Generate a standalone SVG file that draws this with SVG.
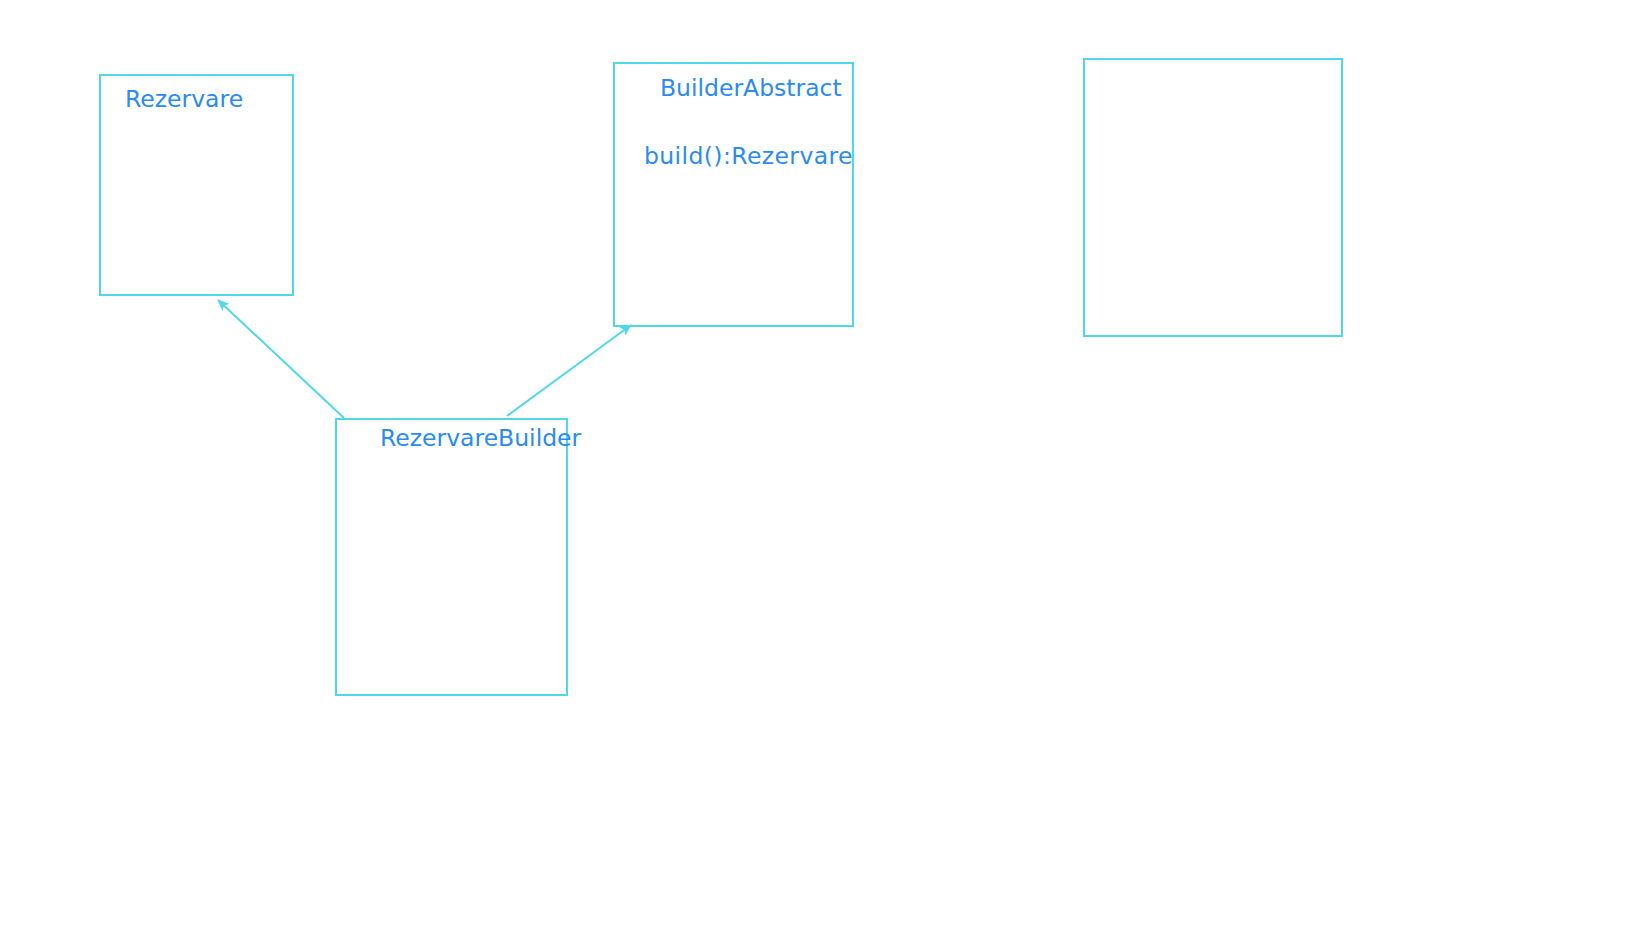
<svg xmlns="http://www.w3.org/2000/svg" width="1648" height="927" viewBox="0 0 1648 927">
<style>
.box{fill:#ffffff;stroke:#4fd8ea;stroke-width:2}
.lbl{font-family:"DejaVu Sans",sans-serif;font-size:23.5px;fill:#2b8bf5}
.edge{stroke:#4fd8ea;stroke-width:2;fill:none}
</style>
<defs>
<marker id="arr" viewBox="0 0 12 10" refX="11" refY="5" markerWidth="12" markerHeight="10" markerUnits="userSpaceOnUse" orient="auto">
<path d="M0,0 L12,5 L0,10 L3,5 Z" fill="#4fd8ea"/>
</marker>
</defs>
<rect width="1648" height="927" fill="#ffffff"/>
<g id="Rezervare">
<rect class="box" x="100" y="75" width="193" height="220"/>
<text class="lbl" x="125" y="107">Rezervare</text>
</g>
<g id="BuilderAbstract">
<rect class="box" x="614" y="63" width="239" height="263"/>
<text class="lbl" x="660" y="96">BuilderAbstract</text>
<text class="lbl" x="644" y="164" letter-spacing="0.4">build():Rezervare</text>
</g>
<g id="RezervareBuilder">
<rect class="box" x="336" y="419" width="231" height="276"/>
<text class="lbl" x="380" y="446">RezervareBuilder</text>
</g>
<g id="Empty">
<rect class="box" x="1084" y="59" width="258" height="277"/>
</g>
<g id="connectors">
<line class="edge" x1="344" y1="418" x2="218" y2="300" marker-end="url(#arr)"/>
<line class="edge" x1="507" y1="416" x2="631" y2="325" marker-end="url(#arr)"/>
</g>
</svg>
